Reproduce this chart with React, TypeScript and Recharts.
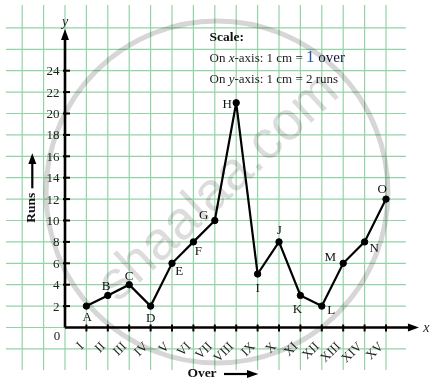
import React from 'react';
import { LineChart, Line, XAxis, YAxis, ReferenceLine, ReferenceDot, LabelList } from 'recharts';

// ---------- data ----------
const overNumbers = [1, 2, 3, 4, 5, 6, 7, 8, 9, 10, 11, 12, 13, 14, 15];
const overLabels = ['I', 'II', 'III', 'IV', 'V', 'VI', 'VII', 'VIII', 'IX', 'X', 'XI', 'XII', 'XIII', 'XIV', 'XV'];
const runs = [2, 3, 4, 2, 6, 8, 10, 21, 5, 8, 3, 2, 6, 8, 12];
const pointNames = ['A', 'B', 'C', 'D', 'E', 'F', 'G', 'H', 'I', 'J', 'K', 'L', 'M', 'N', 'O'];
const yTickValues = [2, 4, 6, 8, 10, 12, 14, 16, 18, 20, 22, 24];
const gridXValues = [-2, -1, 0, 1, 2, 3, 4, 5, 6, 7, 8, 9, 10, 11, 12, 13, 14, 15];
const gridYValues = [-2, 0, 2, 4, 6, 8, 10, 12, 14, 16, 18, 20, 22, 24, 26, 28];

const data = overNumbers.map((o, i) => ({ over: o, runs: runs[i], name: pointNames[i] }));

// ---------- layout ----------
const W = 435;
const H = 386;
const X_DOMAIN: [number, number] = [-3.0374, 17.2897];
const Y_DOMAIN: [number, number] = [-5.467, 30.607];
const FONT = '"Liberation Serif", "Times New Roman", serif';
const GRID = '#94d2a8';

const LABEL_OFFSETS: Record<string, [number, number]> = {
  A: [0.7, 10.6], B: [-1.7, -9.6], C: [-0.2, -8.9], D: [0.1, 11.6], E: [7.2, 7.5],
  F: [4.9, 8.1], G: [-11.2, -6], H: [-9, 0.8], I: [0, 13.8], J: [0.3, -12.3],
  K: [-2.9, 12.9], L: [9.4, 3.2], M: [-13, -6.6], N: [9.7, 5.4], O: [-3.7, -10.8],
};

const renderPointLabel = (props: any) => {
  const { x, y, value } = props;
  const off = LABEL_OFFSETS[value as string] || [0, -10];
  return (
    <text x={x + off[0]} y={y + off[1]} textAnchor="middle" dominantBaseline="central"
      fontFamily={FONT} fontSize={13} fill="#111">{value}</text>
  );
};

const yTickShape = (v: number) => (props: any) => {
  const { cx, cy } = props;
  return (
    <g>
      <line x1={cx - 2} x2={cx + 5} y1={cy} y2={cy} stroke="#000" strokeWidth={2} />
      <text x={cx - 5.5} y={cy} textAnchor="end" dominantBaseline="central"
        fontFamily={FONT} fontSize={13} fill="#222">{v}</text>
    </g>
  );
};

const xTickShape = (label: string) => (props: any) => {
  const { cx, cy } = props;
  const ax = cx - 2;
  const ay = cy + 19.5;
  return (
    <g>
      <line x1={cx} x2={cx} y1={cy - 3} y2={cy + 4} stroke="#000" strokeWidth={2} />
      <text x={ax} y={ay} textAnchor="end" transform={`rotate(-45, ${ax}, ${ay})`}
        fontFamily={FONT} fontSize={13} fill="#222">{label}</text>
    </g>
  );
};

const yArrowShape = (props: any) => {
  const { cx, cy } = props;
  return (
    <g>
      <polygon points={`${cx},${cy} ${cx - 4},${cy + 11} ${cx + 4},${cy + 11}`} fill="#000" />
      <text x={cx} y={cy - 7.5} textAnchor="middle" dominantBaseline="central"
        fontFamily={FONT} fontStyle="italic" fontSize={14} fill="#222">y</text>
    </g>
  );
};

const xArrowShape = (props: any) => {
  const { cx, cy } = props;
  return (
    <g>
      <polygon points={`${cx},${cy} ${cx - 11},${cy - 4} ${cx - 11},${cy + 4}`} fill="#000" />
      <text x={cx + 7.5} y={cy} textAnchor="middle" dominantBaseline="central"
        fontFamily={FONT} fontStyle="italic" fontSize={14} fill="#222">x</text>
    </g>
  );
};

const originShape = (props: any) => {
  const { cx, cy } = props;
  return (
    <text x={cx - 8} y={cy + 8} textAnchor="middle" dominantBaseline="central"
      fontFamily={FONT} fontSize={13} fill="#222">0</text>
  );
};

export default function App() {
  return (
    <div style={{ position: 'absolute', left: 0, top: 0, width: W, height: H, background: '#fff', overflow: 'hidden' }}>
      <div style={{ position: 'absolute', left: 0, top: 0 }}>
        <LineChart width={W} height={H} data={data} margin={{ top: 0, right: 0, bottom: 0, left: 0 }}>
          <XAxis type="number" dataKey="over" domain={X_DOMAIN} allowDataOverflow hide />
          <YAxis type="number" domain={Y_DOMAIN} allowDataOverflow hide />
          {gridXValues.map((v) => (
            <ReferenceLine key={`gx${v}`} segment={[{ x: v, y: 30.14 }, { x: v, y: -3.97 }]}
              stroke={GRID} strokeWidth={1.2} ifOverflow="visible" />
          ))}
          {gridYValues.map((v) => (
            <ReferenceLine key={`gy${v}`} segment={[{ x: -2.757, y: v }, { x: 15.93, y: v }]}
              stroke={GRID} strokeWidth={1.2} ifOverflow="visible" />
          ))}
          <ReferenceLine segment={[{ x: 0, y: 0 }, { x: 0, y: 27.2 }]} stroke="#000" strokeWidth={2.6} ifOverflow="visible" />
          <ReferenceLine segment={[{ x: 0, y: 0 }, { x: 16.1, y: 0 }]} stroke="#000" strokeWidth={2.6} ifOverflow="visible" />
          <ReferenceDot x={0} y={27.9} shape={yArrowShape} ifOverflow="visible" />
          <ReferenceDot x={16.54} y={0} shape={xArrowShape} ifOverflow="visible" />
          <ReferenceDot x={0} y={0} shape={originShape} ifOverflow="visible" />
          {yTickValues.map((v) => (
            <ReferenceDot key={`yt${v}`} x={0} y={v} shape={yTickShape(v)} ifOverflow="visible" />
          ))}
          {overNumbers.map((o, i) => (
            <ReferenceDot key={`xt${o}`} x={o} y={0} shape={xTickShape(overLabels[i])} ifOverflow="visible" />
          ))}
          <Line type="linear" dataKey="runs" stroke="#000" strokeWidth={2.2}
            dot={{ r: 3.2, fill: '#000', stroke: '#000', strokeWidth: 1 }}
            activeDot={false} isAnimationActive={false}>
            <LabelList dataKey="name" content={renderPointLabel} />
          </Line>
        </LineChart>
      </div>
      <svg width={W} height={H} style={{ position: 'absolute', left: 0, top: 0, pointerEvents: 'none' }}>
        <text x={209.5} y={41.2} fontFamily={FONT} fontWeight="bold" fontSize={13.5} fill="#111">Scale:</text>
        <text x={209.5} y={62} fontFamily={FONT} fontSize={13} fill="#222">
          On <tspan fontStyle="italic">x</tspan>-axis: 1 cm = <tspan fontSize={17} fill="#2456a8">1</tspan>
          <tspan fontSize={15} fill="#14143a"> over</tspan>
        </text>
        <text x={209.5} y={82.8} fontFamily={FONT} fontSize={13} fill="#222">
          On <tspan fontStyle="italic">y</tspan>-axis: 1 cm = 2 runs
        </text>
        <text x={30.7} y={207.7} transform="rotate(-90, 30.7, 207.7)" textAnchor="middle" dominantBaseline="central"
          fontFamily={FONT} fontWeight="bold" fontSize={13.5} fill="#111">Runs</text>
        <line x1={32.3} y1={188.3} x2={32.3} y2={162} stroke="#000" strokeWidth={2.2} />
        <polygon points="32.3,153.3 28.3,164 36.3,164" fill="#000" />
        <text x={202} y={372} textAnchor="middle" dominantBaseline="central"
          fontFamily={FONT} fontWeight="bold" fontSize={13.5} fill="#111">Over</text>
        <line x1={224} y1={374} x2={249} y2={374} stroke="#000" strokeWidth={2.2} />
        <polygon points="258.3,374 247,370 247,378" fill="#000" />
      </svg>
      <svg width={W} height={H} style={{ position: 'absolute', left: 0, top: 0, pointerEvents: 'none', mixBlendMode: 'multiply' }}>
        <circle cx={217} cy={192} r={171} fill="none" stroke="#d6d6d6" strokeWidth={5} />
        <text x={216.5} y={185} textAnchor="middle" dominantBaseline="central" transform="rotate(-43, 216.5, 185)"
          fontFamily='"Liberation Sans", Arial, sans-serif' fontSize={54} fill="#dcdcdc">shaalaa.com</text>
      </svg>
    </div>
  );
}
